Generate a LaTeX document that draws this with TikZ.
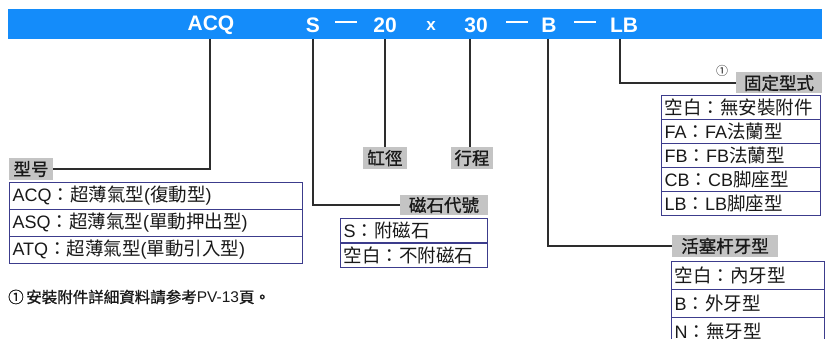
\documentclass[tikz,border=0pt]{standalone}
\usepackage{fontspec}
\setmainfont{Liberation Sans}
\newfontfamily\cjk{Noto Sans CJK TC}
\newfontfamily\cjkm[FakeBold=1]{Noto Sans CJK TC}
\newcommand\lat[1]{{\rmfamily\fontsize{18}{18}\selectfont #1}}
\newcommand\bardash{\rule[0.28em]{22pt}{2pt}}
\definecolor{barblue}{RGB}{20,140,250}
\definecolor{lblgray}{RGB}{196,196,196}
\definecolor{tblblue}{RGB}{60,60,140}
\definecolor{linegray}{RGB}{45,45,45}
\definecolor{textblack}{RGB}{25,25,25}
\begin{document}
\begin{tikzpicture}[x=1pt,y=-1pt,
  conn/.style={draw=linegray, line width=1.3pt},
  lbl/.style={fill=lblgray, inner sep=0pt, font=\cjkm\fontsize{17.5}{17.5}\selectfont, text=textblack},
  cell/.style={draw=tblblue, line width=1.1pt, anchor=north west, inner xsep=3pt, inner ysep=0pt, align=left, font=\cjk\fontsize{18.5}{18.5}\selectfont, text=textblack},
  bartxt/.style={text=white, font=\fontsize{21}{21}\selectfont\bfseries, inner sep=0pt}]
\useasboundingbox (0,0) rectangle (830,339);
% header bar
\fill[barblue] (8,9) rectangle (822,39);
\node[bartxt] (tACQ) at (211,25) {ACQ};
\node[bartxt] (tS) at (313,25) {S};
\node[bartxt] (tD1) at (346,25) {\bardash};
\node[bartxt] (t20) at (385,25) {20};
\node[bartxt] (tX) at (431,26) {\fontsize{17}{17}\selectfont x};
\node[bartxt] (t30) at (476,25) {30};
\node[bartxt] (tD2) at (517,25) {\bardash};
\node[bartxt] (tB) at (549,25) {B};
\node[bartxt] (tD3) at (585,25) {\bardash};
\node[bartxt] (tLB) at (624,25) {LB};
% connector start points
\coordinate (pACQ) at (210,39);
\coordinate (pS) at (313,39);
\coordinate (p20) at (385,39);
\coordinate (p30) at (470,39);
\coordinate (pB) at (548,39);
\coordinate (pLB) at (620,39);
% labels
\node[lbl, minimum width=44pt, minimum height=22pt] (lxh) at (31,169) {型号};
\node[lbl, minimum width=44pt, minimum height=22pt] (lgj) at (385,158) {缸徑};
\node[lbl, minimum width=42pt, minimum height=22pt] (lxc) at (472,158) {行程};
\node[lbl, minimum width=88pt, minimum height=20pt] (lcs) at (444,205) {磁石代號};
\node[lbl, minimum width=86pt, minimum height=21pt] (lgd) at (779,83) {固定型式};
\node[lbl, minimum width=106pt, minimum height=22pt] (lhs) at (725,246) {活塞杆牙型};
\node[font=\cjk\fontsize{12}{12}\selectfont, text=textblack, inner sep=0pt] (n1) at (722,71) {①};
% connectors
\draw[conn] (pACQ) |- (lxh.east);
\draw[conn] (pS) |- (lcs.west);
\draw[conn] (p20) -- (p20 |- lgj.north);
\draw[conn] (p30) -- (p30 |- lxc.north);
\draw[conn] (pB) |- (lhs.west);
\draw[conn] (pLB) |- (lgd.west);
% table: model
\node[cell, text width=287pt, minimum height=27pt] (m1) at (9,182) {\lat{ACQ}：超薄氣型\lat{(}復動型\lat{)}};
\node[cell, text width=287pt, minimum height=27pt] (m2) at (9,209) {\lat{ASQ}：超薄氣型\lat{(}單動押出型\lat{)}};
\node[cell, text width=287pt, minimum height=27pt] (m3) at (9,236) {\lat{ATQ}：超薄氣型\lat{(}單動引入型\lat{)}};
% table: magnet
\node[cell, text width=141pt, minimum height=24.5pt] (s1) at (340,218) {\lat{S}：附磁石};
\node[cell, text width=141pt, minimum height=24.5pt] (s2) at (340,242.5) {空白：不附磁石};
% table: mounting
\node[cell, text width=153pt, minimum height=24pt] (g1) at (661,95) {空白：無安裝附件};
\node[cell, text width=153pt, minimum height=24pt] (g2) at (661,119) {\lat{FA}：\lat{FA}法蘭型};
\node[cell, text width=153pt, minimum height=24pt] (g3) at (661,143) {\lat{FB}：\lat{FB}法蘭型};
\node[cell, text width=153pt, minimum height=24pt] (g4) at (661,167) {\lat{CB}：\lat{CB}脚座型};
\node[cell, text width=153pt, minimum height=24pt] (g5) at (661,191) {\lat{LB}：\lat{LB}脚座型};
% table: rod thread
\node[cell, text width=147pt, minimum height=28pt] (h1) at (671,261) {空白：內牙型};
\node[cell, text width=147pt, minimum height=28pt] (h2) at (671,289) {\lat{B}：外牙型};
\node[cell, text width=147pt, minimum height=28pt] (h3) at (671,317) {\lat{N}：無牙型};
% footnote
\node[anchor=west, inner sep=0pt, font=\cjkm\fontsize{15.5}{15.5}\selectfont, text=textblack] (fn) at (8,297) {①\,安裝附件詳細資料請参考{\rmfamily\fontsize{15.5}{15.5}\selectfont PV-13}頁。};
\end{tikzpicture}
\end{document}
